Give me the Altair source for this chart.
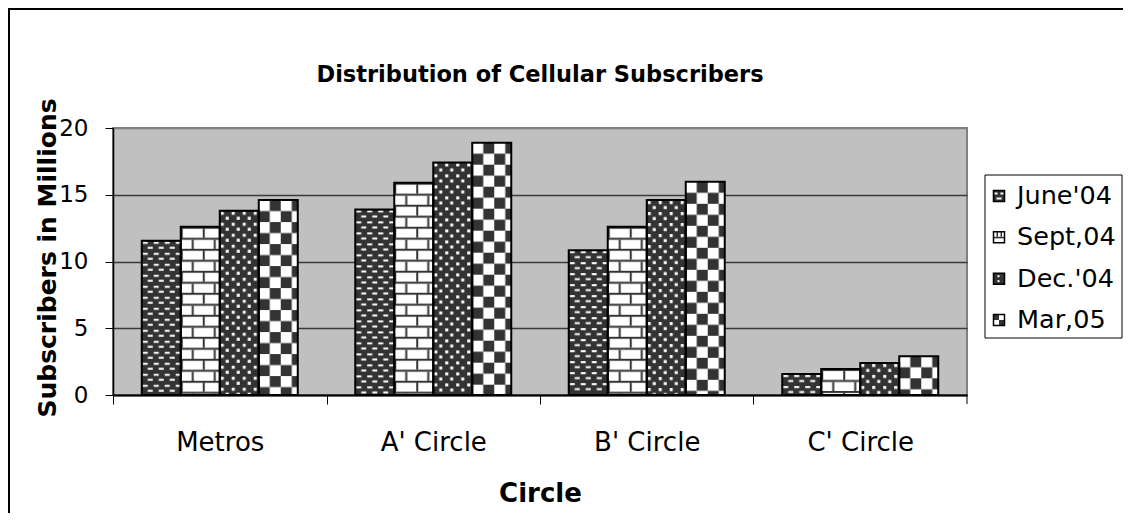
import base64
import altair as alt
import pandas as pd

# ---------------- data ----------------
categories = ["Metros", "A' Circle", "B' Circle", "C' Circle"]
series = ["June'04", "Sept,04", "Dec.'04", "Mar,05"]
june = [11.55, 13.9, 10.85, 1.57]
sept = [12.6, 15.9, 12.6, 1.95]
dec = [13.8, 17.42, 14.6, 2.4]
mar = [14.6, 18.9, 15.97, 2.9]
y_ticks = [0, 5, 10, 15, 20]
title_text = "Distribution of Cellular Subscribers"
x_title = "Circle"
y_title = "Subscribers in Millions"

values = [june, sept, dec, mar]
rows = [
    {"circle": c, "series": s, "value": v[i]}
    for s, v in zip(series, values)
    for i, c in enumerate(categories)
]
df = pd.DataFrame(rows)
leg_df = pd.DataFrame({"series": series})
one = pd.DataFrame({"t": [title_text]})

# ---------------- styles ----------------
FONT = "DejaVu Sans"
DARK = "#333333"
W, H = 854, 267
P_IN, P_OUT = 0.2693, 0.1347
STEP = W / (len(categories) - P_IN + 2 * P_OUT)
HALF_GAP = P_IN * STEP / 2


def svg_uri(body):
    svg = ("<svg xmlns='http://www.w3.org/2000/svg' width='100%' height='100%'>"
           + body + "</svg>")
    return "data:image/svg+xml;base64," + base64.b64encode(svg.encode()).decode()


def pattern(tile, shapes, bg):
    rects = "".join(
        f"<rect x='{x}' y='{y}' width='{w}' height='{h}' fill='{c}'/>" for x, y, w, h, c in shapes
    )
    body = (f"<defs><pattern id='p' width='{tile}' height='{tile}' patternUnits='userSpaceOnUse'>"
            f"<rect width='{tile}' height='{tile}' fill='{bg}'/>{rects}</pattern></defs>"
            "<rect width='100%' height='100%' fill='url(#p)'/>")
    return svg_uri(body)


bar_patterns = [
    pattern(11, [(1, 1, 5, 2, "#fff"), (6, 6, 5, 2, "#fff")], DARK),
    pattern(22, [(0, 0, 22, 2, DARK), (0, 11, 22, 2, DARK), (0, 2, 2, 9, DARK), (11, 13, 2, 9, DARK)], "#fff"),
    pattern(11, [(1, 1, 3, 3, "#fff"), (6, 6, 3, 3, "#fff")], DARK),
    pattern(22, [(11, 0, 11, 11, DARK), (0, 11, 11, 11, DARK)], "#fff"),
]
icon_patterns = [
    svg_uri(f"<rect width='100%' height='100%' fill='{DARK}'/>"
            "<rect x='1' y='2' width='3' height='2' fill='#fff'/><rect x='7' y='2' width='3' height='2' fill='#fff'/>"
            "<rect x='3' y='7' width='5' height='2' fill='#fff'/>"),
    svg_uri("<rect width='100%' height='100%' fill='#fff'/>"
            f"<rect x='0' y='5' width='11' height='1.5' fill='{DARK}'/>"
            f"<rect x='3' y='0' width='1.5' height='5' fill='{DARK}'/><rect x='7' y='0' width='1.5' height='5' fill='{DARK}'/>"),
    svg_uri(f"<rect width='100%' height='100%' fill='{DARK}'/>"
            "<rect x='4' y='2' width='2' height='2' fill='#fff'/><rect x='4' y='7' width='2' height='2' fill='#fff'/>"),
    svg_uri("<rect width='100%' height='100%' fill='#fff'/>"
            f"<rect x='0' y='0' width='5.5' height='5.5' fill='{DARK}'/><rect x='5.5' y='5.5' width='5.5' height='5.5' fill='{DARK}'/>"),
]
fallback_grays = ["#6b6b6b", "#d5d5d5", "#474747", "#999999"]

# ---------------- encodings ----------------
x_enc = alt.X(
    "circle:N", sort=categories,
    scale=alt.Scale(domain=categories, paddingInner=P_IN, paddingOuter=P_OUT),
    axis=alt.Axis(
        title=x_title, labelAngle=0, labelFont=FONT, labelFontSize=26, labelColor="black",
        labelPadding=25, tickSize=9, tickColor="black", bandPosition=0,
        tickOffset=-HALF_GAP, labelOffset=HALF_GAP,
        domainColor="black", domainWidth=2, grid=False,
        titleFont=FONT, titleFontSize=26, titleFontWeight="bold", titleColor="black",
        titleX=W / 2, titleY=98, titleAlign="center", titleBaseline="middle",
    ),
)
xoff = alt.XOffset("series:N", sort=series,
                   scale=alt.Scale(domain=series, paddingInner=0, paddingOuter=0))
y_enc = alt.Y(
    "value:Q", stack=None,
    scale=alt.Scale(domain=[0, 20], nice=False, zero=True),
    axis=alt.Axis(
        title=y_title, values=y_ticks, labelFont=FONT, labelFontSize=23, labelColor="black",
        labelPadding=17, tickSize=8, tickColor="black", domainColor="black", domainWidth=1.5,
        grid=True, gridWidth=1.5,
        gridColor=alt.condition("datum.value == 20", alt.value("#808080"), alt.value("#3a3a3a")),
        titleFont=FONT, titleFontSize=25, titleFontWeight="bold", titleColor="black",
        titleX=-66, titleY=H / 2 - 4, titleAngle=270, titleAlign="center", titleBaseline="middle",
    ),
)

base = alt.Chart(df).encode(x=x_enc, xOffset=xoff, y=y_enc, y2=alt.datum(0))

gray_bars = base.mark_bar().encode(
    fill=alt.Fill("series:N", scale=alt.Scale(domain=series, range=fallback_grays), legend=None)
)
pattern_layers = [
    base.transform_filter(alt.datum.series == s).mark_image(url=u, aspect=False)
    for s, u in zip(series, bar_patterns)
]
outline = base.mark_bar(fillOpacity=0, stroke="black", strokeWidth=2)
main = alt.layer(gray_bars, *pattern_layers, outline)

# closing tick at the right end of the category axis
end_tick = alt.Chart(one).mark_rule(color="black", strokeWidth=1).encode(
    x=alt.value(W), y=alt.value(H), y2=alt.value(H + 9)
)

# ---------------- legend ----------------
leg_y = alt.Y("series:N", sort=series,
              scale=alt.Scale(type="point", domain=series, range=[68, 192], padding=0),
              axis=None)
leg_box = alt.Chart(one).mark_rect(fill="white", stroke="black", strokeWidth=1).encode(
    x=alt.value(872), x2=alt.value(1009), y=alt.value(47), y2=alt.value(210)
)
leg_icons = [
    alt.Chart(leg_df).transform_filter(alt.datum.series == s)
    .mark_image(url=u, width=11, height=11, aspect=False)
    .encode(x=alt.value(886), y=leg_y)
    for s, u in zip(series, icon_patterns)
]
leg_frames = alt.Chart(leg_df).mark_square(size=121, filled=False, stroke="black",
                                           strokeWidth=1.5, opacity=1).encode(
    x=alt.value(886), y=leg_y
)
leg_text = alt.Chart(leg_df).mark_text(align="left", baseline="middle", font=FONT,
                                       fontSize=25.5, color="black").encode(
    x=alt.value(904), y=leg_y, text="series:N"
)
legend = alt.layer(leg_box, *leg_icons, leg_frames, leg_text)

# ---------------- decorations ----------------
border = alt.Chart(one).mark_rect(fillOpacity=0, stroke="black", strokeWidth=2).encode(
    x=alt.value(-104), x2=alt.value(1400), y=alt.value(-119), y2=alt.value(900)
)
title = alt.Chart(one).mark_text(font=FONT, fontSize=22.5, fontWeight="bold", color="black",
                                 align="center", baseline="middle").encode(
    x=alt.value(W / 2), y=alt.value(-53), text="t:N"
)

chart = (
    alt.layer(border, main, end_tick, legend, title)
    .resolve_scale(y="independent")
    .properties(
        width=W, height=H,
        autosize=alt.AutoSizeParams(type="none"),
        padding={"left": 105, "top": 120, "right": 156, "bottom": 118},
        background="white",
    )
    .configure_view(fill="#c0c0c0", stroke="#808080", strokeWidth=2)
)

chart.save("out.html", embed_options={"renderer": "svg", "actions": False})
